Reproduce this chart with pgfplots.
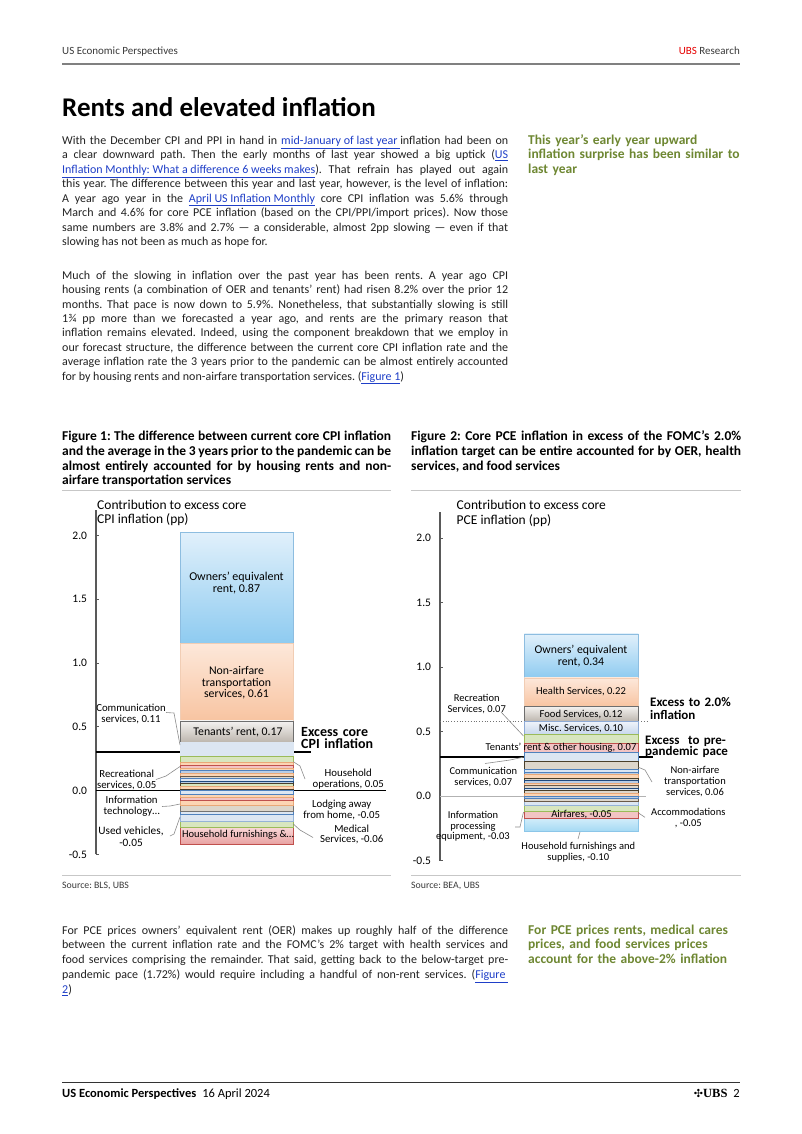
\documentclass[border=0pt]{standalone}
\usepackage{pgfplots}
\pgfplotsset{compat=1.18}
\usepackage{fontspec}
\setmainfont{Carlito}
\newfontfamily\serifb{Liberation Serif}
\newfontfamily\djv{DejaVu Sans}
\newcommand{\fs}[2]{\fontsize{#1bp}{#2bp}\selectfont}
\definecolor{txt}{HTML}{222222}
\definecolor{txtgray}{HTML}{3A3A3A}
\definecolor{ubsred}{HTML}{E60000}
\definecolor{linkblue}{HTML}{1F3FC8}
\definecolor{sidegreen}{HTML}{6E8732}
\definecolor{lead}{HTML}{8C8C8C}
% big segments
\definecolor{oerT}{HTML}{E1F0FB}\definecolor{oerB}{HTML}{8ECBF0}\definecolor{oerD}{HTML}{8DBDE0}
\definecolor{naT}{HTML}{FDE8DA}\definecolor{naB}{HTML}{F8C4A1}\definecolor{naD}{HTML}{F1CDB4}
\definecolor{tnT}{HTML}{F4F2F0}\definecolor{tnB}{HTML}{BBB4AC}\definecolor{tnD}{HTML}{6E6E6E}
\definecolor{hfT}{HTML}{F8D6D6}\definecolor{hfB}{HTML}{E8A2A2}\definecolor{hfD}{HTML}{C0504D}
\definecolor{msT}{HTML}{EEF3FA}\definecolor{msB}{HTML}{C6D6EC}\definecolor{msD}{HTML}{8EAAD5}
\definecolor{cyT}{HTML}{D3EDFA}\definecolor{cyB}{HTML}{A6DAF4}\definecolor{cyD}{HTML}{8CC6E8}
% stripes
\definecolor{sPeach}{HTML}{FCD5B4}\definecolor{sPeachD}{HTML}{E9A877}
\definecolor{sPink}{HTML}{F2C4C4}\definecolor{sPinkD}{HTML}{C0504D}
\definecolor{sGreen}{HTML}{D8E6BF}\definecolor{sGreenD}{HTML}{9BBB59}
\definecolor{sBlue}{HTML}{B9CDE5}\definecolor{sBlueD}{HTML}{4F81BD}
\definecolor{sLBlue}{HTML}{DCE6F2}\definecolor{sLBlueD}{HTML}{95B3D7}
\definecolor{sTan}{HTML}{DDD6CB}\definecolor{sTanD}{HTML}{6B5A48}
\definecolor{sNavyD}{HTML}{1F497D}
\definecolor{sBrown}{HTML}{C9BFA8}\definecolor{sBrownD}{HTML}{4A3F2A}
\newcommand{\lnk}[1]{{\color{linkblue}\underline{#1}}}
\frenchspacing
\begin{document}
\begin{tikzpicture}[x=1bp,y=1bp]
\useasboundingbox (0,0) rectangle (802,-1134);
\fill[white] (0,0) rectangle (802,-1134);
% header
\node[anchor=base west, inner sep=0, font=\fs{11}{13}, text=txtgray] at (62,-54.5) {US Economic Perspectives};
\node[anchor=base east, inner sep=0, font=\fs{11}{13}, text=txtgray] at (740,-54.5) {\textcolor{ubsred}{UBS} Research};
\draw[black!50, line width=1.6bp] (62,-64) -- (740,-64);
% title
\node[anchor=base west, inner sep=0, font=\fs{27}{30}\bfseries, text=black] at (62,-116) {Rents and elevated inflation};
% paragraph 1
\node[anchor=base west, inner sep=0, text width=446bp, align=justify, font=\fs{12}{14.45}, text=txt] at (62,-144.5) {With the December CPI and PPI in hand in \lnk{mid-January of last year }inflation had been on\linebreak
a clear downward path. Then the early months of last year showed a big uptick (\lnk{US}\linebreak
\lnk{Inflation Monthly: What a difference 6 weeks makes}). That refrain has played out again\linebreak
this year. The difference between this year and last year, however, is the level of inflation:\linebreak
A year ago year in the \lnk{April US Inflation Monthly} core CPI inflation was 5.6\% through\linebreak
March and 4.6\% for core PCE inflation (based on the CPI/PPI/import prices). Now those\linebreak
same numbers are 3.8\% and 2.7\% — a considerable, almost 2pp slowing — even if that\linebreak
slowing has not been as much as hope for.};
\node[anchor=base west, inner sep=0, text width=215bp, align=left, font=\fs{13.5}{14.7}\bfseries, text=sidegreen] at (528,-144) {This year's early year upward\\inflation surprise has been similar to\\last year};
% paragraph 2
\node[anchor=base west, inner sep=0, text width=446bp, align=justify, font=\fs{12}{14.43}, text=txt] at (62,-279.2) {Much of the slowing in inflation over the past year has been rents. A year ago CPI\linebreak
housing rents (a combination of OER and tenants' rent) had risen 8.2\% over the prior 12\linebreak
months. That pace is now down to 5.9\%. Nonetheless, that substantially slowing is still\linebreak
1¾ pp more than we forecasted a year ago, and rents are the primary reason that\linebreak
inflation remains elevated. Indeed, using the component breakdown that we employ in\linebreak
our forecast structure, the difference between the current core CPI inflation rate and the\linebreak
average inflation rate the 3 years prior to the pandemic can be almost entirely accounted\linebreak
for by housing rents and non-airfare transportation services. (\lnk{Figure 1})};
% figure titles
\node[anchor=base west, inner sep=0, text width=329bp, align=justify, font=\fs{13.5}{14.8}\bfseries, text=black] at (62,-440.5) {Figure 1: The difference between current core CPI inflation\linebreak
and the average in the 3 years prior to the pandemic can be\linebreak
almost entirely accounted for by housing rents and non-\linebreak
airfare transportation services};
\node[anchor=base west, inner sep=0, text width=330bp, align=justify, font=\fs{13.5}{14.8}\bfseries, text=black] at (411,-440.5) {Figure 2: Core PCE inflation in excess of the FOMC's 2.0\%\linebreak
inflation target can be entire accounted for by OER, health\linebreak
services, and food services};
\draw[black!22, line width=0.8bp] (62,-490) -- (391,-490);
\draw[black!22, line width=0.8bp] (411,-490) -- (741,-490);
\draw[black!22, line width=0.8bp] (62,-875) -- (391,-875);
\draw[black!22, line width=0.8bp] (411,-875) -- (741,-875);
\node[anchor=base west, inner sep=0, font=\fs{9.8}{11}, text=txtgray] at (62,-888) {Source: BLS, UBS};
\node[anchor=base west, inner sep=0, font=\fs{9.8}{11}, text=txtgray] at (411,-888) {Source: BEA, UBS};

% ================= Chart 1 =================
% negative contributions stack downward from 0, positive ones upward from 0
\begin{axis}[
 at={(96bp,-854.3bp)}, anchor=south west,
 scale only axis, width=293bp, height=344.5bp,
 xmin=0, xmax=1, ymin=-0.5, ymax=2.2,
 axis y line*=left, axis x line=none,
 ytick={-0.5,0,0.5,1,1.5,2}, yticklabels={-0.5,0.0,0.5,1.0,1.5,2.0},
 yticklabel style={font=\fs{11.5}{13}, xshift=-5.5bp, text=black},
 y axis line style={draw=black!65, line width=1.2bp},
 ytick style={draw=black!65, line width=0.8bp},
 tick align=inside, major tick length=3bp,
 ybar stacked, bar width=113bp,
 clip=false,
]
% negatives (from zero downward)
\addplot[fill=sLBlue, draw=sBlueD, line width=0.7bp] coordinates {(0.48,-0.03)};
\addplot[fill=sPeach, draw=sPeachD, line width=0.7bp] coordinates {(0.48,-0.02)};
\addplot[fill=sPink, draw=sPinkD, line width=0.7bp] coordinates {(0.48,-0.03)};
\addplot[fill=sPeach, draw=sPeachD, line width=0.7bp] coordinates {(0.48,-0.04)};
\addplot[fill=sTan, draw=black!55, line width=0.7bp] coordinates {(0.48,-0.04)};
\addplot[fill=sLBlue, draw=sBlueD, line width=0.7bp] coordinates {(0.48,-0.03)};
\addplot[fill=sLBlue, draw=sLBlueD, line width=0.7bp] coordinates {(0.48,-0.05)};
\addplot[fill=sGreen, draw=sGreenD, line width=0.7bp] coordinates {(0.48,-0.05)};
\addplot[top color=hfT, bottom color=hfB, draw=hfD, line width=0.8bp] coordinates {(0.48,-0.13)};
% positives (from zero upward)
\addplot[fill=sBrown, draw=sBrownD, line width=0.8bp] coordinates {(0.48,0.01)};
\addplot[fill=sPeach, draw=sPeachD, line width=0.7bp] coordinates {(0.48,0.025)};
\addplot[fill=sGreen, draw=sBrownD, line width=0.7bp] coordinates {(0.48,0.02)};
\addplot[fill=sBlue, draw=sNavyD, line width=0.7bp] coordinates {(0.48,0.02)};
\addplot[fill=sLBlue, draw=sBlueD, line width=0.7bp] coordinates {(0.48,0.02)};
\addplot[fill=sTan, draw=sTanD, line width=0.7bp] coordinates {(0.48,0.02)};
\addplot[fill=sPeach, draw=sPeachD, line width=0.7bp] coordinates {(0.48,0.02)};
\addplot[fill=sBlue, draw=sBlueD, line width=0.7bp] coordinates {(0.48,0.02)};
\addplot[fill=sPeach, draw=sPeachD, line width=0.7bp] coordinates {(0.48,0.02)};
\addplot[fill=sPink, draw=sPinkD, line width=0.7bp] coordinates {(0.48,0.025)};
\addplot[fill=sPeach, draw=sPeachD, line width=0.7bp] coordinates {(0.48,0.02)};
\addplot[fill=sGreen, draw=sGreenD, line width=0.7bp] coordinates {(0.48,0.045)};
\addplot[fill=sLBlue, draw=sLBlue, line width=0.5bp] coordinates {(0.48,0.11)};
\addplot[top color=tnT, bottom color=tnB, draw=tnD, line width=0.8bp] coordinates {(0.48,0.17)};
\addplot[top color=naT, bottom color=naB, draw=naD, line width=0.8bp] coordinates {(0.48,0.61)};
\addplot[top color=oerT, bottom color=oerB, draw=oerD, line width=0.8bp] coordinates {(0.48,0.87)};
\draw[black, line width=1bp] (axis cs:0,0) -- (axis cs:0.99,0);
\draw[black, line width=1.7bp] (axis cs:0,0.30) -- (axis cs:0.735,0.30);
\end{axis}

% chart 1 annotations
\node[anchor=west, inner sep=0, align=left, font=\fs{13.5}{14.5}, text=black] at (97,-512.8) {Contribution to excess core\\CPI inflation (pp)};
\node[align=center, font=\fs{12}{12}, text=black] at (236.5,-583.3) {Owners' equivalent\\rent, 0.87};
\node[align=center, font=\fs{11.8}{11.7}, text=black] at (236.5,-682.7) {Non-airfare\\transportation\\services, 0.61};
\node[font=\fs{11.8}{12}, text=black] at (238,-731.7) {Tenants' rent, 0.17};
\node[font=\fs{10.5}{12}, text=black] at (238,-834.3) {Household furnishings \&…};
\node[anchor=base west, inner sep=0, text width=90bp, align=left, font=\fs{14}{12.6}\bfseries, text=black] at (301,-736.3) {Excess core\\CPI inflation};
\begin{scope}[font=\fs{10.8}{10.8}, text=black]
\node[align=center] at (131,-714.2) {Communication\\services, 0.11};
\node[align=center] at (126.7,-779.7) {Recreational\\services, 0.05};
\node[align=center] at (131.7,-806.4) {Information\\technology…};
\node[align=center, font=\fs{11.3}{12}] at (131,-836.7) {Used vehicles,\\-0.05};
\node[align=center] at (348.3,-779.2) {Household\\operations, 0.05};
\node[align=center] at (341.7,-809.7) {Lodging away\\from home, -0.05};
\node[align=center] at (351.7,-834.5) {Medical\\Services, -0.06};
\end{scope}
\begin{scope}[draw=lead, line width=0.6bp]
\draw (166,-712.5) -- (174,-713) -- (180,-745);
\draw (156,-779.5) -- (166,-776) -- (180,-766.5);
\draw (162,-806.5) -- (170,-806) -- (180,-804);
\draw (170,-836) -- (174,-834) -- (180,-817);
\draw (293.3,-761.7) -- (300,-766) -- (305,-779);
\draw (293.3,-824) -- (300,-830) -- (313,-837.5);
\end{scope}

% ================= Chart 2 =================
\begin{axis}[
 at={(440bp,-860.5bp)}, anchor=south west,
 scale only axis, width=210bp, height=348.3bp,
 xmin=0, xmax=1, ymin=-0.5, ymax=2.2,
 axis y line*=left, axis x line=none,
 ytick={-0.5,0,0.5,1,1.5,2}, yticklabels={-0.5,0.0,0.5,1.0,1.5,2.0},
 yticklabel style={font=\fs{11.5}{13}, xshift=-5.5bp, text=black},
 y axis line style={draw=black!65, line width=1.2bp},
 ytick style={draw=black!65, line width=0.8bp},
 tick align=inside, major tick length=3bp,
 ybar stacked, bar width=114bp,
 clip=false,
]
% negatives (from zero downward)
\addplot[fill=sBlue, draw=sBlueD, line width=0.7bp] coordinates {(0.673,-0.02)};
\addplot[fill=sTan, draw=sTanD, line width=0.7bp] coordinates {(0.673,-0.02)};
\addplot[fill=sLBlue, draw=sLBlueD, line width=0.7bp] coordinates {(0.673,-0.03)};
\addplot[fill=sGreen, draw=sGreenD, line width=0.7bp] coordinates {(0.673,-0.05)};
\addplot[fill=sPink, draw=sPinkD, line width=0.7bp] coordinates {(0.673,-0.05)};
\addplot[top color=cyT, bottom color=cyB, draw=cyD, line width=0.7bp] coordinates {(0.673,-0.10)};
% positives (from zero upward)
\addplot[fill=sPeach, draw=sPeachD, line width=0.7bp] coordinates {(0.673,0.02)};
\addplot[fill=sTan, draw=sBrownD, line width=0.8bp] coordinates {(0.673,0.02)};
\addplot[fill=sLBlue, draw=sNavyD, line width=0.7bp] coordinates {(0.673,0.02)};
\addplot[fill=sTan, draw=sTanD, line width=0.7bp] coordinates {(0.673,0.02)};
\addplot[fill=sPeach, draw=sPeachD, line width=0.7bp] coordinates {(0.673,0.02)};
\addplot[fill=sBlue, draw=sNavyD, line width=0.7bp] coordinates {(0.673,0.02)};
\addplot[fill=sTan, draw=sBrownD, line width=0.8bp] coordinates {(0.673,0.02)};
\addplot[fill=sPeach, draw=sPeachD, line width=0.7bp] coordinates {(0.673,0.025)};
\addplot[fill=sBlue, draw=sBlueD, line width=0.7bp] coordinates {(0.673,0.02)};
\addplot[fill=sLBlue, draw=sBlueD, line width=0.7bp] coordinates {(0.673,0.021)};
\addplot[fill=sTan, draw=sBrownD, line width=0.8bp] coordinates {(0.673,0.06)};
\addplot[fill=sLBlue, draw=sBlueD, line width=0.7bp] coordinates {(0.673,0.07)};
\addplot[fill=sPink, draw=sPinkD, line width=0.7bp] coordinates {(0.673,0.07)};
\addplot[fill=sGreen, draw=sGreenD, line width=0.7bp] coordinates {(0.673,0.07)};
\addplot[top color=msT, bottom color=msB, draw=msD, line width=0.7bp] coordinates {(0.673,0.10)};
\addplot[top color=tnT, bottom color=tnB, draw=tnD, line width=0.8bp] coordinates {(0.673,0.12)};
\addplot[top color=naT, bottom color=naB, draw=naD, line width=0.7bp] coordinates {(0.673,0.22)};
\addplot[top color=oerT, bottom color=oerB, draw=oerD, line width=0.8bp] coordinates {(0.673,0.34)};
\draw[black!30, line width=0.7bp] (axis cs:0,0) -- (axis cs:0.98,0);
\draw[black!55, line width=0.8bp, dotted] (axis cs:0,0.576) -- (axis cs:0.99,0.576);
\draw[black, line width=1.8bp] (axis cs:0,0.305) -- (axis cs:1.015,0.305);
\end{axis}

% chart 2 annotations
\node[anchor=west, inner sep=0, align=left, font=\fs{13.5}{15}, text=black] at (456.5,-513.3) {Contribution to excess core\\PCE inflation (pp)};
\node[align=center, font=\fs{11.8}{11.7}, text=black] at (581,-655.8) {Owners' equivalent\\rent, 0.34};
\node[font=\fs{10.6}{12}, text=black] at (581,-691.7) {Health Services, 0.22};
\node[font=\fs{10.6}{12}, text=black] at (581,-714) {Food Services, 0.12};
\node[font=\fs{10.6}{12}, text=black] at (581,-728.3) {Misc. Services, 0.10};
\node[font=\fs{10.5}{12}, text=black] at (561,-747.7) {Tenants' rent \& other housing, 0.07};
\node[font=\fs{10.6}{12}, text=black] at (581.5,-815) {Airfares, -0.05};
\node[anchor=base west, inner sep=0, text width=90bp, align=left, font=\fs{13}{12.3}\bfseries, text=black] at (650,-706.8) {Excess to 2.0\%\\inflation};
\node[anchor=base west, inner sep=0, text width=100bp, align=left, font=\fs{13}{11.7}\bfseries, text=black] at (645,-744.1) {Excess\ \ to pre-\\pandemic pace};
\begin{scope}[font=\fs{10.5}{10.7}, text=black]
\node[align=center] at (476.7,-703.7) {Recreation\\Services, 0.07};
\node[align=center] at (483.3,-777.2) {Communication\\services, 0.07};
\node[align=center] at (473,-826.5) {Information\\processing\\equipment, -0.03};
\node[align=center] at (578.3,-852.2) {Household furnishings and\\supplies, -0.10};
\node[align=center] at (695,-781.7) {Non-airfare\\transportation\\services, 0.06};
\node[align=center] at (688.3,-817.8) {Accommodations\\, -0.05};
\end{scope}
\begin{scope}[draw=lead, line width=0.6bp]
\draw (501,-712) -- (523.5,-736);
\draw (485,-763.5) -- (510,-760) -- (524,-757);
\draw (515,-827) -- (520,-827) -- (523.5,-812);
\draw (578,-839) -- (580,-832);
\draw (638.5,-767.3) -- (645,-770) -- (652,-782);
\draw (638.5,-813) -- (645,-817.3);
\end{scope}

% paragraph 3
\node[anchor=base west, inner sep=0, text width=446bp, align=justify, font=\fs{12}{14.9}, text=txt] at (62,-934) {For PCE prices owners' equivalent rent (OER) makes up roughly half of the difference\linebreak
between the current inflation rate and the FOMC's 2\% target with health services and\linebreak
food services comprising the remainder. That said, getting back to the below-target pre-\linebreak
pandemic pace (1.72\%) would require including a handful of non-rent services. (\lnk{Figure\ }\linebreak
\lnk{2})};
\node[anchor=base west, inner sep=0, text width=215bp, align=left, font=\fs{13.5}{14.9}\bfseries, text=sidegreen] at (528,-934) {For PCE prices rents, medical cares\\prices, and food services prices\\account for the above-2\% inflation};
% footer
\draw[black!80, line width=1bp] (62,-1082) -- (740,-1082);
\node[anchor=base west, inner sep=0, font=\fs{12.5}{14}, text=black] at (62,-1097) {\textbf{US Economic Perspectives}\hspace{6bp}16 April 2024};
\node[anchor=base east, inner sep=0, font=\fs{12.5}{14}, text=black] at (740,-1097) {{\djv\fs{11}{12}✣}{\serifb\bfseries\fs{12.5}{14}UBS}\hspace{6bp}2};
\end{tikzpicture}
\end{document}
